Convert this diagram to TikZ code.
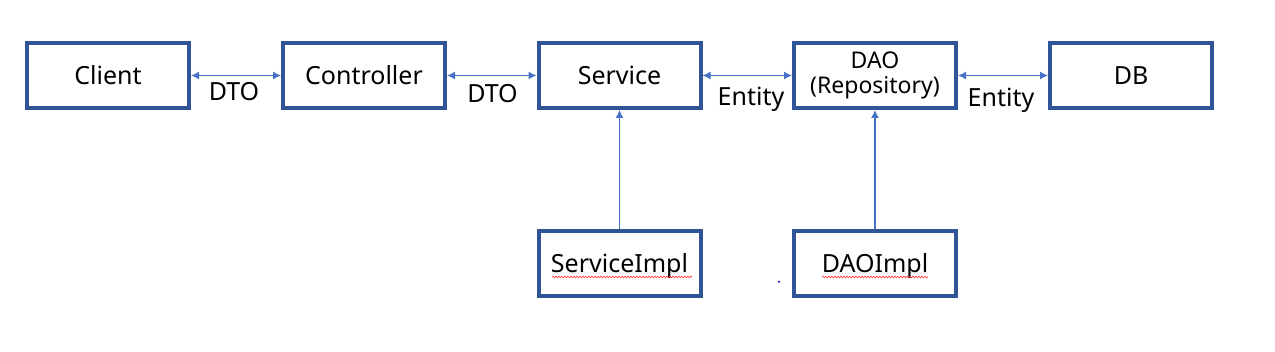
\documentclass[tikz,border=0pt]{standalone}
\usepackage{fontspec}
\setmainfont{Noto Sans}
\usetikzlibrary{arrows.meta,decorations.pathmorphing}
\definecolor{boxblue}{HTML}{2F5597}
\definecolor{arrblue}{HTML}{4472C4}
\tikzset{
  layer/.style={draw=boxblue, line width=4pt, fill=white, minimum width=162pt, minimum height=65pt,
    inner sep=0pt, text height=18pt, text depth=0pt, font=\fontsize{25}{29}\selectfont},
  biarrow/.style={draw=arrblue, line width=1.3pt, {Latex[length=8pt,width=8pt]}-{Latex[length=8pt,width=8pt]}},
  uparrow/.style={draw=arrblue, line width=1.1pt, -{Latex[length=8pt,width=8pt]}},
  lbl/.style={anchor=base, inner sep=0pt, font=\fontsize{25}{29}\selectfont},
  spell/.style={draw=red!80, line width=0.6pt, decorate, decoration={snake, amplitude=0.9pt, segment length=3pt}}
}
\begin{document}
\begin{tikzpicture}[x=1pt,y=-1pt]
\useasboundingbox (0,0) rectangle (1275,352);
\node[layer] (client) at (108,75.5) {Client};
\node[layer] (ctrl) at (364,75.5) {Controller};
\node[layer] (svc) at (619.5,75.5) {Service};
\node[layer, text height=, text depth=, align=center, font=\fontsize{23}{25}\selectfont] (dao) at (875,75.5) {DAO\\(Repository)};
\node[layer] (db) at (1131,75.5) {DB};
\node[layer] (svcimpl) at (619.5,264) {ServiceImpl};
\node[layer] (daoimpl) at (875,264) {DAOImpl};

\draw[biarrow] (client.east) -- (ctrl.west);
\draw[biarrow] (ctrl.east) -- (svc.west);
\draw[biarrow] (svc.east) -- (dao.west);
\draw[biarrow] (dao.east) -- (db.west);
\draw[uparrow] (svcimpl.north) -- (svc.south);
\draw[uparrow] (daoimpl.north) -- (dao.south);

\node[lbl] (l1) at (234,101) {DTO};
\node[lbl] (l2) at (492.5,103) {DTO};
\node[lbl] (l3) at (751,106) {Entity};
\node[lbl] (l4) at (1001,106.5) {Entity};

\coordinate (s1a) at (552,277); \coordinate (s1b) at (692,277);
\coordinate (s2a) at (822,277); \coordinate (s2b) at (928,277);
\draw[spell] (s1a) -- (s1b);
\draw[spell] (s2a) -- (s2b);
\fill[blue] (779,281.7) circle (1.1);
\end{tikzpicture}
\end{document}
